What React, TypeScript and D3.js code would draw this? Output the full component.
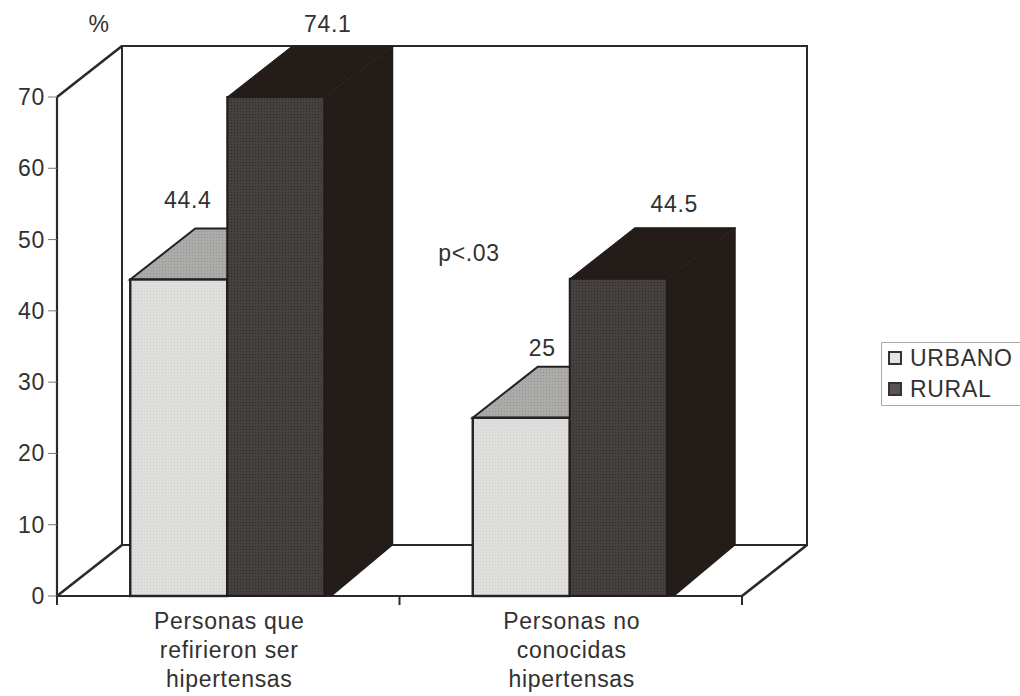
import React from "react";
import * as d3 from "d3";

// Chart values
const categories = ["Personas que refirieron ser hipertensas", "Personas no conocidas hipertensas"];
const categoryLines = [
  ["Personas que", "refirieron ser", "hipertensas"],
  ["Personas no", "conocidas", "hipertensas"],
];
const seriesNames = ["URBANO", "RURAL"];
const urbanoValues = [44.4, 25];
const ruralValues = [74.1, 44.5];
const yTicks = [0, 10, 20, 30, 40, 50, 60, 70];

// Hand-placed value labels: horizontal shift from the bar centre, vertical shift from the bar top
const labelShift = [
  [[9, -71], [52, -65]],
  [[21, -62], [56, -66.5]],
];

const FONT = "'Liberation Sans', Arial, sans-serif";
const INK = "#2c2a29";
const TEXT = "#333130";

const x0 = 57, x1 = 742, yBase = 596, yTop = 97;
const depthX = 65, depthY = 51;
const barWidth = 97;

const y = d3.scaleLinear().domain([0, 70]).range([yBase, yTop]).clamp(true);
const xCat = d3.scaleBand<string>().domain(categories).range([x0, x1]);
const line = d3.line();
const poly = (pts: [number, number][]) => line(pts) + "Z";

const palette = [
  { front: "url(#urbanoFront)", top: "url(#urbanoTop)", side: "#231c18", edge: "#222", topStroke: 2, frontStroke: 2.4 },
  { front: "url(#ruralFront)", top: "#231c18", side: "#231c18", edge: "#231c18", topStroke: 1, frontStroke: 2 },
];

function Bar({ left, value, s }: { left: number; value: number; s: number }) {
  const c = palette[s];
  const t = y(value);
  const r = left + barWidth;
  const reach = depthX + 4;
  return (
    <g>
      <path
        d={poly([[r, t], [r + reach, t - depthY], [r + reach, yBase - depthY], [r + 8, yBase], [r, yBase]])}
        fill={c.side}
      />
      <path
        d={poly([[left, t], [left + depthX, t - depthY], [r + reach, t - depthY], [r, t]])}
        fill={c.top}
        stroke={c.edge}
        strokeWidth={c.topStroke}
      />
      <rect x={left} y={t} width={barWidth} height={yBase - t} fill={c.front} stroke={c.edge} strokeWidth={c.frontStroke} />
    </g>
  );
}

export default function App() {
  const textBase = { fontFamily: FONT, fill: TEXT, fontSize: 23, letterSpacing: 0.7 };
  const right = x1 + depthX;
  const backBottom = yBase - depthY;
  const backTop = yTop - depthY;
  return (
    <svg
      width={1020}
      height={696}
      viewBox="0 0 1020 696"
      style={{ position: "absolute", left: 0, top: 0, background: "#fff" }}
    >
      <defs>
        <pattern id="urbanoFront" width={3} height={3} patternUnits="userSpaceOnUse">
          <rect width={3} height={3} fill="#dededd" />
          <rect width={1} height={1} fill="#cfcfce" />
        </pattern>
        <pattern id="urbanoTop" width={3} height={3} patternUnits="userSpaceOnUse">
          <rect width={3} height={3} fill="#ababaa" />
          <rect width={1} height={1} fill="#929291" />
        </pattern>
        <pattern id="ruralFront" width={3} height={3} patternUnits="userSpaceOnUse">
          <rect width={3} height={3} fill="#444140" />
          <rect width={1} height={1} fill="#2c2927" />
        </pattern>
      </defs>

      {/* Wall and floor outlines */}
      <g fill="none" stroke={INK} strokeWidth={2}>
        <path d={poly([[x0 + depthX, backTop], [right, backTop], [right, backBottom], [x0 + depthX, backBottom]])} />
        <path d={line([[x0, yTop], [x0 + depthX, backTop]]) as string} strokeWidth={2.6} />
        <path d={line([[x0, yTop], [x0, yBase], [x1, yBase]]) as string} strokeWidth={2.2} />
        <path d={line([[x1, yBase], [right, backBottom]]) as string} strokeWidth={2.6} />
        <path d={line([[x0, yBase], [x0 + depthX, backBottom]]) as string} strokeWidth={2.6} />
      </g>

      {/* Value axis */}
      {yTicks.map((t) => (
        <g key={t}>
          <line x1={x0 - 9} x2={x0} y1={y(t)} y2={y(t)} stroke="#777" strokeWidth={1} />
          <text x={45} y={y(t) + 8} textAnchor="end" {...textBase}>
            {t}
          </text>
        </g>
      ))}

      {/* Category axis */}
      {[x0, x0 + xCat.bandwidth(), x1].map((x) => (
        <line key={x} x1={x} x2={x} y1={yBase} y2={yBase + 9} stroke={INK} strokeWidth={2} />
      ))}

      {/* Bars, one pair per category */}
      {categories.map((cat, i) => {
        const cx = (xCat(cat) as number) + xCat.bandwidth() / 2;
        const xSeries = d3.scaleBand<string>().domain(seriesNames).range([cx - barWidth - 1, cx + barWidth - 1]);
        const values = [urbanoValues[i], ruralValues[i]];
        return (
          <g key={cat}>
            {values.map((v, s) => (
              <Bar key={s} left={xSeries(seriesNames[s]) as number} value={v} s={s} />
            ))}
            {values.map((v, s) => (
              <text
                key={s}
                x={(xSeries(seriesNames[s]) as number) + barWidth / 2 + labelShift[i][s][0]}
                y={y(v) + labelShift[i][s][1]}
                textAnchor="middle"
                {...textBase}
              >
                {String(v)}
              </text>
            ))}
            {categoryLines[i].map((l, k) => (
              <text key={k} x={cx + 1} y={629 + k * 29} textAnchor="middle" {...textBase}>
                {l}
              </text>
            ))}
          </g>
        );
      })}

      <text x={99} y={32} textAnchor="middle" {...textBase}>%</text>
      <text x={469} y={261} textAnchor="middle" {...textBase}>p&lt;.03</text>

      {/* Legend */}
      <path d="M1020,342.5H881.5V405.5H1020" fill="none" stroke="#a8a8a8" strokeWidth={1} />
      {seriesNames.map((n, s) => (
        <g key={n}>
          <rect
            x={889}
            y={352 + s * 31}
            width={12}
            height={12}
            fill={s === 0 ? "#e4e4e3" : "#5b5450"}
            stroke="#333"
            strokeWidth={2}
          />
          <text x={910} y={366 + s * 31} {...textBase}>
            {n}
          </text>
        </g>
      ))}
    </svg>
  );
}
